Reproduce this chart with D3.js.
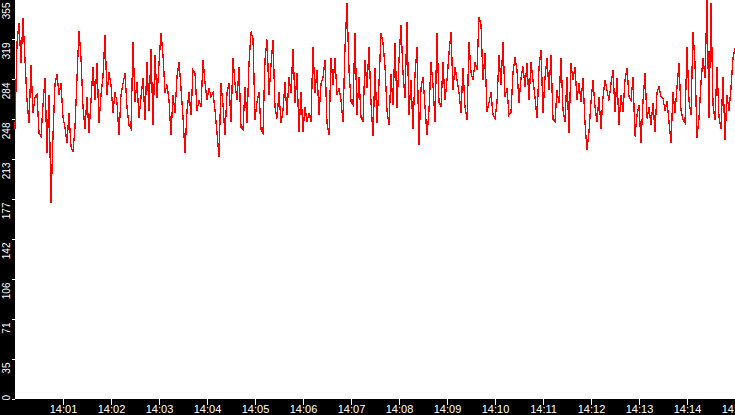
<!DOCTYPE html>
<html>
<head>
<meta charset="utf-8">
<script src="https://cdn.jsdelivr.net/npm/d3@7"></script>
<style>
  html, body { margin: 0; padding: 0; background: #000; }
  svg { display: block; }
</style>
</head>
<body>
<div id="chart"></div>
<script>
// samples, one every 2.5 s from 14:00:00
const sampleStart = "14:00:00";
const sampleStepSec = 2.5;
const values = [
  240,316,334,298,338,301,265,245,296,254,268,270,236,233,261,285,218,270,174,234,280,288,270,280,250,241,227,254,224,219,241,285,327,303,259,240,268,236,265,295,265,298,245,270,286,
  323,270,290,279,254,272,263,234,270,280,289,259,243,240,317,264,281,249,268,285,248,299,256,311,243,305,267,298,325,305,272,279,265,234,270,254,286,299,276,250,218,256,272,252,292,
  289,256,265,259,301,281,265,276,268,272,256,236,215,280,261,234,272,280,246,303,280,265,295,241,239,277,245,298,326,320,248,264,272,239,236,301,319,270,296,319,259,249,272,245,256,
  281,252,286,272,311,263,289,237,272,237,259,246,254,246,312,272,292,252,280,285,301,245,234,303,279,303,270,276,265,246,312,351,292,264,261,325,252,286,250,246,301,276,312,263,233,
  294,245,280,325,316,295,256,243,288,261,316,258,301,332,289,267,335,252,283,240,288,312,225,276,286,259,234,256,299,279,246,325,263,259,299,265,283,307,326,274,295,283,272,254,294,
  259,248,317,290,283,299,292,339,332,283,307,255,263,272,252,249,263,305,279,317,268,276,252,254,290,303,292,263,285,295,277,298,265,299,283,268,249,294,310,254,285,303,274,305,248,
  246,274,263,303,256,246,286,236,298,283,295,265,280,264,285,245,221,237,264,283,259,246,268,240,268,283,274,265,280,292,255,285,243,270,255,283,294,268,265,286,233,252,261,227,264,
  289,249,259,243,263,237,272,277,268,267,256,264,246,227,272,254,277,298,256,248,245,312,265,252,326,298,232,249,281,303,285,354,249,351,261,248,295,250,240,286,230,270,256,276,303,311
];

const xStart = "14:00";
const xEnd = "14:15";
const xTickLabels = ["14:01","14:02","14:03","14:04","14:05","14:06","14:07","14:08",
  "14:09","14:10","14:11","14:12","14:13","14:14","14:15"];

const yMax = 355;
const yTickValues = [0, 35.5, 71, 106.5, 142, 177.5, 213, 248.5, 284, 319.5, 355];
const yTickLabels = ["0","35","71","106","142","177","213","248","284","319","355"];

const width = 735;
const height = 415;
const margin = { top: 0, right: 0, bottom: 16, left: 15 };

const parseHM = d3.timeParse("%H:%M");
const parseHMS = d3.timeParse("%H:%M:%S");
const t0 = parseHMS(sampleStart);

const data = values.map((v, i) => ({
  time: new Date(t0.getTime() + i * sampleStepSec * 1000),
  value: v
}));

const svg = d3.select("#chart")
  .append("svg")
  .attr("width", width)
  .attr("height", height)
  .style("background", "#000");

const x = d3.scaleTime()
  .domain([parseHM(xStart), parseHM(xEnd)])
  .range([margin.left, width - margin.right]);

const y = d3.scaleLinear()
  .domain([0, yMax])
  .range([height - margin.bottom, margin.top - 1]);

svg.append("rect")
  .attr("x", margin.left)
  .attr("y", 0)
  .attr("width", width - margin.left - margin.right)
  .attr("height", height - margin.bottom)
  .attr("fill", "#fff");

// x axis
const xAxis = svg.append("g")
  .attr("transform", `translate(0,${height - margin.bottom})`)
  .call(d3.axisBottom(x)
    .tickValues(xTickLabels.map(parseHM))
    .tickFormat(d3.timeFormat("%H:%M"))
    .tickSize(6)
    .tickSizeOuter(0));
xAxis.select(".domain").remove();
xAxis.selectAll("line")
  .attr("stroke", "#fff")
  .attr("shape-rendering", "crispEdges");
xAxis.selectAll("text")
  .attr("fill", "#fff")
  .attr("y", 6)
  .attr("dy", "0.7em")
  .style("font-family", "'Liberation Sans', Arial, sans-serif")
  .style("font-size", "11px");

// y axis, labels turned upright and hung just under each tick
const yAxis = svg.append("g")
  .attr("transform", `translate(${margin.left},0)`)
  .call(d3.axisLeft(y)
    .tickValues(yTickValues)
    .tickFormat((d, i) => yTickLabels[i])
    .tickSize(3)
    .tickSizeOuter(0));
yAxis.select(".domain").remove();
yAxis.selectAll("line")
  .attr("stroke", "#fff")
  .attr("shape-rendering", "crispEdges");
yAxis.selectAll("text")
  .attr("fill", "#fff")
  .attr("x", null)
  .attr("dy", null)
  .attr("text-anchor", "end")
  .style("font-family", "'Liberation Sans', Arial, sans-serif")
  .style("font-size", "10px")
  .each(function(d) {
    const len = this.getComputedTextLength();
    const ty = y(d);
    let off = 3;
    if (ty + off + len > height - margin.bottom + 1) off = height - margin.bottom + 1 - len - ty;
    d3.select(this).attr("transform", `translate(-5,${off}) rotate(-90)`);
  });

// the series
const line = d3.line()
  .x(d => x(d.time))
  .y(d => y(d.value));

svg.append("path")
  .datum(data)
  .attr("d", line)
  .attr("fill", "none")
  .attr("stroke", "#ff0000")
  .attr("stroke-width", 1.3)
  .attr("shape-rendering", "crispEdges");
</script>
</body>
</html>
